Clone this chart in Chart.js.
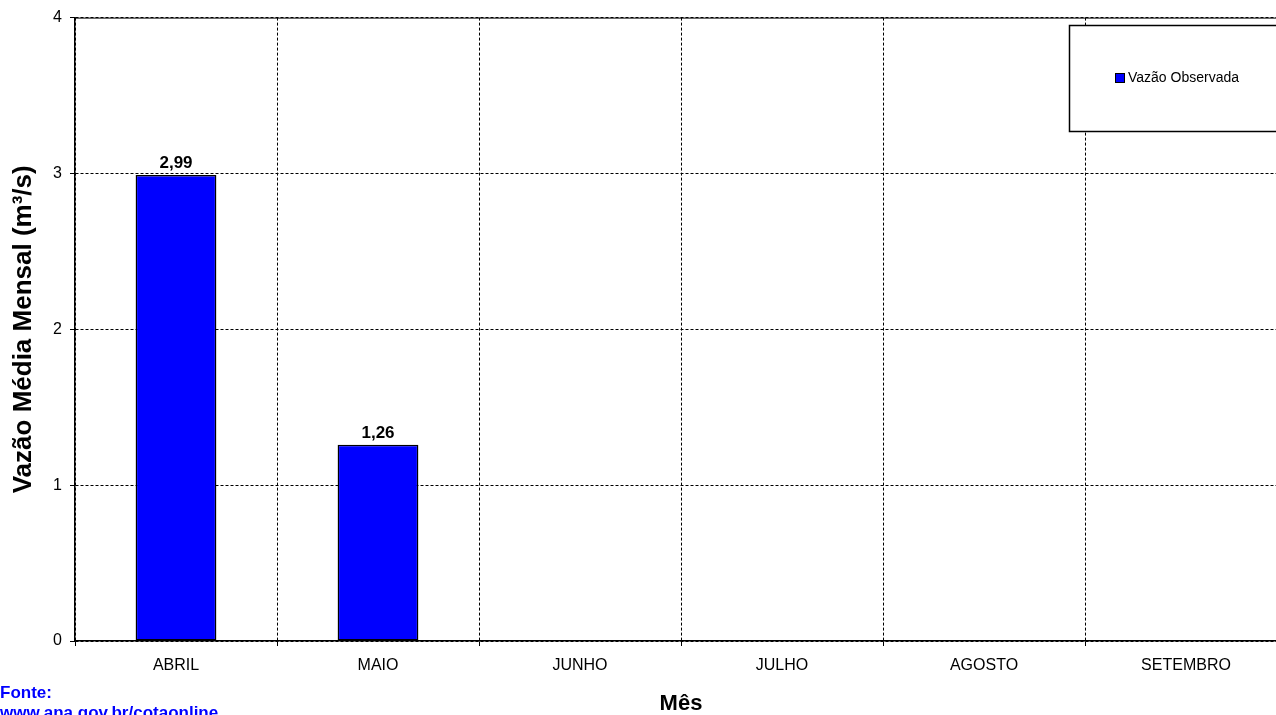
<!DOCTYPE html>
<html>
<head>
<meta charset="utf-8">
<script src="https://cdn.jsdelivr.net/npm/chart.js@4/dist/chart.umd.min.js"></script>
<style>
    html, body { margin: 0; padding: 0; background: #ffffff; overflow: hidden; }
    #wrap { position: relative; width: 1276px; height: 715px; overflow: hidden; }
    #chart { display: block; }
</style>
</head>
<body>
<div id="wrap">
    <canvas id="chart" width="1288" height="715"></canvas>
</div>
<script>
const months = ['ABRIL', 'MAIO', 'JUNHO', 'JULHO', 'AGOSTO', 'SETEMBRO'];
const observed = [2.99, 1.26, null, null, null, null];
const seriesLabel = 'Vazão Observada';
const yTicks = [0, 1, 2, 3, 4];
const sourceLines = ['Fonte:', 'www.ana.gov.br/cotaonline'];

const FONT = "'Liberation Sans', Arial, sans-serif";
const BLUE = '#0000FF';

const fmt = v => v.toFixed(2).replace('.', ',');

// values above the bars, top border, legend box and source note
const extras = {
    id: 'extras',
    afterDatasetsDraw(chart) {
        const ctx = chart.ctx;
        const area = chart.chartArea;
        const meta = chart.getDatasetMeta(0);

        ctx.save();
        ctx.font = 'bold 17px ' + FONT;
        ctx.fillStyle = '#000';
        ctx.textAlign = 'center';
        ctx.textBaseline = 'alphabetic';
        meta.data.forEach((bar, i) => {
            const v = observed[i];
            if (v === null) return;
            ctx.fillText(fmt(v), bar.x, bar.y - 7);
        });

        ctx.strokeStyle = '#000';
        ctx.lineWidth = 1;
        ctx.beginPath();
        ctx.moveTo(area.left, area.top + 0.5);
        ctx.lineTo(area.right, area.top + 0.5);
        ctx.stroke();

        // legend box
        ctx.fillStyle = '#fff';
        ctx.fillRect(1069.5, 25.5, 230, 106);
        ctx.lineWidth = 1.5;
        ctx.strokeRect(1069.5, 25.5, 230, 106);
        ctx.fillStyle = BLUE;
        ctx.fillRect(1115.5, 73.5, 9, 9);
        ctx.lineWidth = 1;
        ctx.strokeRect(1115.5, 73.5, 9, 9);
        ctx.fillStyle = '#000';
        ctx.font = '14px ' + FONT;
        ctx.textAlign = 'left';
        ctx.textBaseline = 'middle';
        ctx.fillText(seriesLabel, 1128, 78);

        // source note
        ctx.fillStyle = BLUE;
        ctx.font = 'bold 17px ' + FONT;
        ctx.textBaseline = 'alphabetic';
        sourceLines.forEach((t, i) => ctx.fillText(t, 0, 698 + i * 20));
        ctx.restore();
    }
};

new Chart(document.getElementById('chart').getContext('2d'), {
    type: 'bar',
    data: {
        labels: months,
        datasets: [{
            label: seriesLabel,
            data: observed,
            backgroundColor: BLUE,
            borderColor: '#000',
            borderWidth: 1.5,
            borderSkipped: false,
            barPercentage: 0.4,
            categoryPercentage: 1.0
        }]
    },
    options: {
        responsive: false,
        animation: false,
        devicePixelRatio: 1,
        layout: { padding: { top: 17, right: 1, left: 0, bottom: 0 } },
        plugins: {
            legend: { display: false },
            tooltip: { enabled: false }
        },
        scales: {
            x: {
                grid: {
                    offset: true,
                    color: '#000',
                    lineWidth: 1,
                    tickLength: 5,
                    tickColor: '#000'
                },
                border: { display: true, color: '#000', width: 1.5, dash: [3, 2] },
                ticks: {
                    color: '#000',
                    padding: 10,
                    maxRotation: 0,
                    font: { family: FONT, size: 16 }
                },
                title: {
                    display: true,
                    text: 'Mês',
                    color: '#000',
                    padding: { top: 0, bottom: 0 },
                    font: { family: FONT, size: 22, weight: 'bold', lineHeight: 1.0 }
                },
                afterFit: scale => { scale.height = 74; }
            },
            y: {
                min: 0,
                max: 4,
                afterBuildTicks: scale => { scale.ticks = yTicks.map(v => ({ value: v })); },
                grid: {
                    color: '#000',
                    lineWidth: 1,
                    tickLength: 5,
                    tickColor: '#000'
                },
                border: { display: true, color: '#000', width: 1.5, dash: [3, 2] },
                ticks: {
                    color: '#000',
                    padding: 8,
                    font: { family: FONT, size: 16 }
                },
                title: {
                    display: true,
                    text: 'Vazão Média Mensal (m³/s)',
                    color: '#000',
                    padding: { top: 8, bottom: 0 },
                    font: { family: FONT, size: 26, weight: 'bold', lineHeight: 1.2 }
                },
                afterFit: scale => { scale.width = 75; }
            }
        }
    },
    plugins: [extras]
});
</script>
</body>
</html>
